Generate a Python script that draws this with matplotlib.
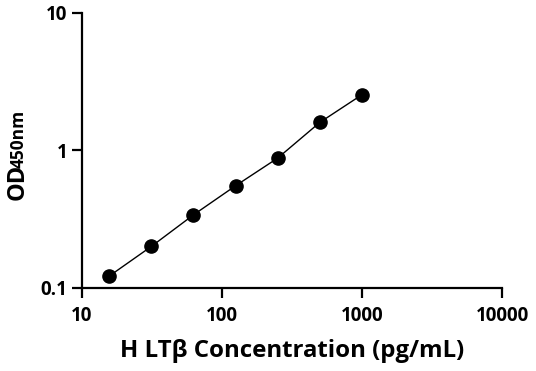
import matplotlib
matplotlib.use('Agg')
import matplotlib.pyplot as plt
from matplotlib.ticker import FixedLocator, FixedFormatter, NullLocator

# Standard curve values
conc = [15.625, 31.25, 62.5, 125, 250, 500, 1000]
od450 = [0.121, 0.199, 0.338, 0.551, 0.877, 1.596, 2.54]

x_ticks = [10, 100, 1000, 10000]
x_tick_labels = ['10', '100', '1000', '10000']
y_ticks = [0.1, 1, 10]
y_tick_labels = ['0.1', '1', '10']

plt.rcParams['font.family'] = ['Open Sans', 'DejaVu Sans']
plt.rcParams['font.weight'] = 'bold'

fig = plt.figure(figsize=(5.36, 3.71), dpi=100)
ax = fig.add_axes([82 / 536, 1 - 287.5 / 371, 420 / 536, 274.5 / 371])

ax.plot(conc, od450, color='black', linewidth=1.0, marker='o',
        markersize=9.5, markerfacecolor='black', markeredgecolor='black')

ax.set_xscale('log')
ax.set_yscale('log')
ax.set_xlim(10, 10000)
ax.set_ylim(0.1, 10)

ax.xaxis.set_major_locator(FixedLocator(x_ticks))
ax.xaxis.set_major_formatter(FixedFormatter(x_tick_labels))
ax.xaxis.set_minor_locator(NullLocator())
ax.yaxis.set_major_locator(FixedLocator(y_ticks))
ax.yaxis.set_major_formatter(FixedFormatter(y_tick_labels))
ax.yaxis.set_minor_locator(NullLocator())

for side in ['top', 'right']:
    ax.spines[side].set_visible(False)
for side in ['left', 'bottom']:
    ax.spines[side].set_linewidth(1.6)
    ax.spines[side].set_capstyle('projecting')

ax.tick_params(axis='both', which='major', direction='out', length=7.5,
               width=1.6, labelsize=13.5, pad=3)
ax.tick_params(axis='x', pad=6)
for lbl in ax.get_xticklabels() + ax.get_yticklabels():
    lbl.set_fontweight('bold')

ax.set_xlabel('H LTβ Concentration (pg/mL)', fontsize=17.3, fontweight='bold',
              labelpad=9)

# y label: "OD" with smaller "450nm" on the same baseline
fig.text(24 / 536, 1 - 200 / 371, 'OD', rotation=90, rotation_mode='anchor',
         ha='left', va='baseline', fontsize=17, fontweight='bold')
fig.text(24 / 536, 1 - 168 / 371, '450nm', rotation=90, rotation_mode='anchor',
         ha='left', va='baseline', fontsize=12.5, fontweight='bold')

fig.savefig('out.png', dpi=100)
